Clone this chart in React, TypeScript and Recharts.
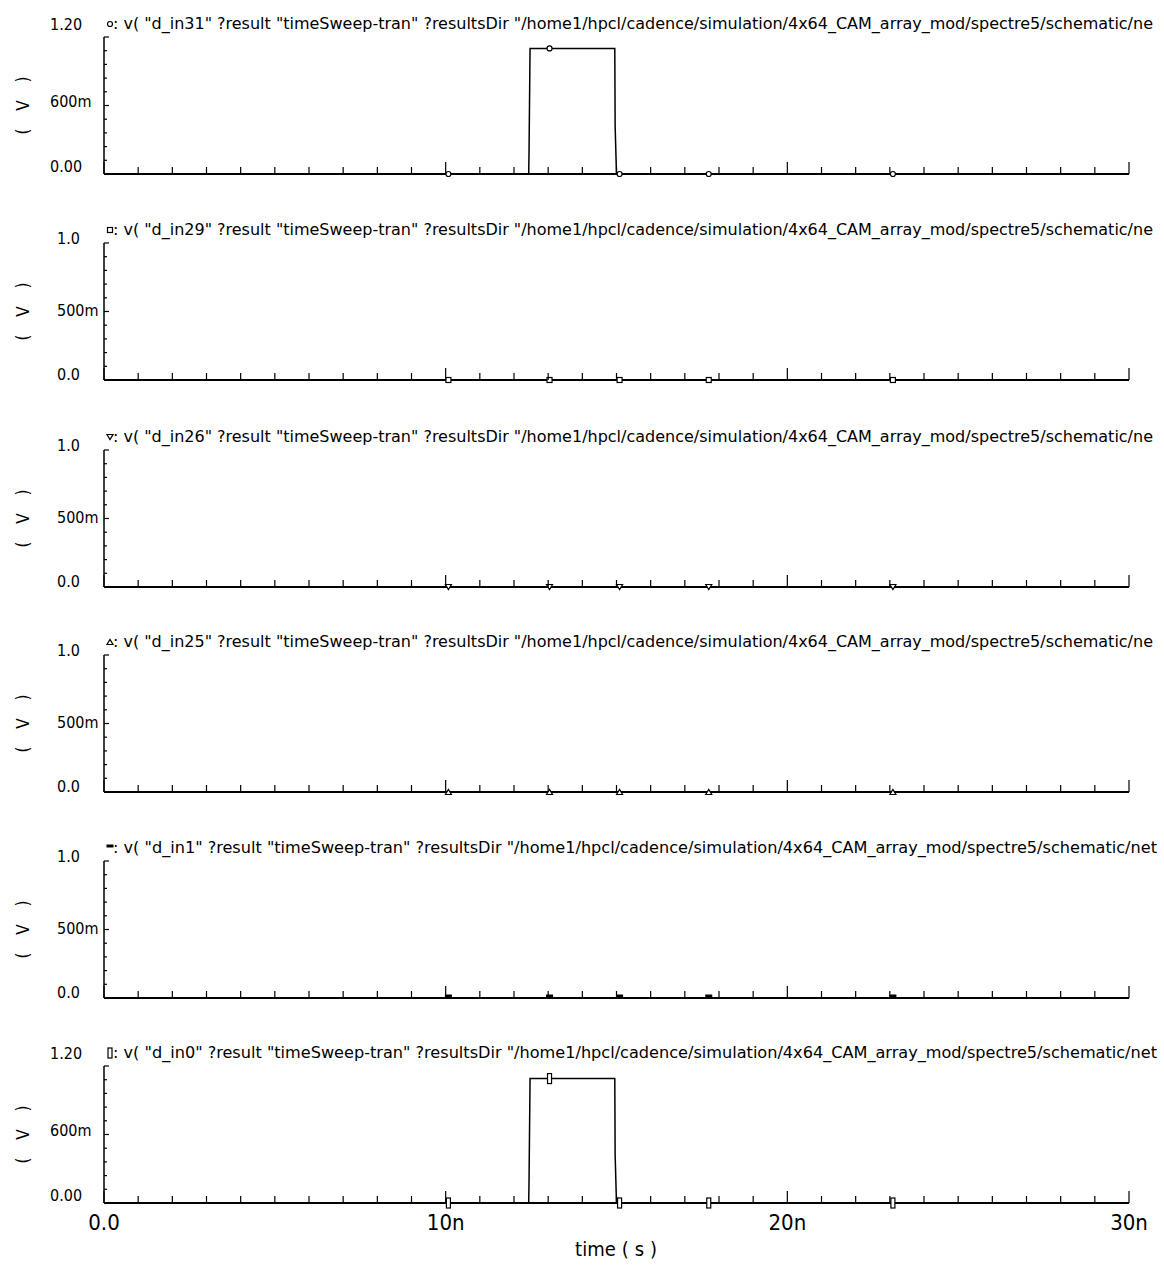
import React from 'react';
import { ComposedChart, Line, Scatter, XAxis, YAxis, Customized } from 'recharts';

const FONT = "'DejaVu Sans Condensed', 'Liberation Sans Narrow', 'DejaVu Sans', sans-serif";

// ---------- data ----------
const signalNames = ['d_in31', 'd_in29', 'd_in26', 'd_in25', 'd_in1', 'd_in0'];
const titleTails = ['/ne', '/ne', '/ne', '/ne', '/net', '/net'];
const markerKinds = ['circle', 'square', 'triDown', 'triUp', 'dash', 'bar'];
const yMaxes = [1.2, 1.0, 1.0, 1.0, 1.0, 1.2];

const yTicks12 = [0, 0.12, 0.24, 0.36, 0.48, 0.6, 0.72, 0.84, 0.96, 1.08, 1.2];
const yTicks10 = [0, 0.1, 0.2, 0.3, 0.4, 0.5, 0.6, 0.7, 0.8, 0.9, 1.0];
const yLabelValues12 = [0, 0.6, 1.2];
const yLabelTexts12 = ['0.00', '600m', '1.20'];
const yLabelValues10 = [0, 0.5, 1.0];
const yLabelTexts10 = ['0.0', '500m', '1.0'];

const timeTicks = [0, 1, 2, 3, 4, 5, 6, 7, 8, 9, 10, 11, 12, 13, 14, 15, 16, 17, 18, 19, 20, 21, 22, 23, 24, 25, 26, 27, 28, 29, 30];
const timeLabelValues = [0, 10, 20, 30];
const timeLabelTexts = ['0.0', '10n', '20n', '30n'];

// time in ns
const pulseTimes = [0, 12.43, 12.44, 12.47, 14.95, 14.96, 15.0, 30];
const flatTimes = [0, 30];
const d_in31 = [0, 0, 0.19, 1.1, 1.1, 0.42, 0, 0];
const d_in29 = [0, 0];
const d_in26 = [0, 0];
const d_in25 = [0, 0];
const d_in1 = [0, 0];
const d_in0 = [0, 0, 0.19, 1.09, 1.09, 0.42, 0, 0];

const markerTimes = [10.08, 13.04, 15.09, 17.7, 23.09];
const markers31 = [0, 1.1, 0, 0, 0];
const markers29 = [0, 0, 0, 0, 0];
const markers26 = [0, 0, 0, 0, 0];
const markers25 = [0, 0, 0, 0, 0];
const markers1 = [0, 0, 0, 0, 0];
const markers0 = [0, 1.09, 0, 0, 0];

const signalTimes = [pulseTimes, flatTimes, flatTimes, flatTimes, flatTimes, pulseTimes];
const signalValues = [d_in31, d_in29, d_in26, d_in25, d_in1, d_in0];
const markerValues = [markers31, markers29, markers26, markers25, markers1, markers0];

// ---------- layout ----------
const CHART_W = 1164;
const AXIS_W = 104;
const RIGHT = 35;
const PLOT_TOP = 36;
const PLOT_H = 137;
const XAXIS_H = 33;
const LAST_XAXIS_H = 90;
const chartTops = [1, 207, 414, 619, 825, 1030];

function Marker({ kind, cx, cy }: { kind: string; cx: number; cy: number }) {
  const s = { stroke: '#000', strokeWidth: 1.2, fill: '#fff' };
  switch (kind) {
    case 'circle':
      return <circle cx={cx} cy={cy} r={2.5} {...s} />;
    case 'square':
      return <rect x={cx - 2.5} y={cy - 2.5} width={5} height={5} {...s} />;
    case 'triDown':
      return <polygon points={`${cx - 3},${cy - 2.5} ${cx + 3},${cy - 2.5} ${cx},${cy + 2.5}`} {...s} />;
    case 'triUp':
      return <polygon points={`${cx - 3},${cy + 2.5} ${cx + 3},${cy + 2.5} ${cx},${cy - 2.5}`} {...s} />;
    case 'dash':
      return <rect x={cx - 3.5} y={cy - 3.5} width={7} height={3} fill="#000" />;
    case 'bar':
      return <rect x={cx - 2} y={cy - 5} width={4} height={10} {...s} />;
    default:
      return null;
  }
}

function XTick(props: any) {
  const { x, y, payload, showLabels } = props;
  const t = payload.value;
  const idx = timeLabelValues.indexOf(t);
  const major = idx >= 0;
  return (
    <g>
      <line x1={x} x2={x} y1={y} y2={y - (major ? 12 : 7)} stroke="#000" strokeWidth={1.2} />
      {showLabels && major && (
        <text x={x} y={y + 27} textAnchor="middle" fontFamily={FONT} fontSize={22} fill="#000">
          {timeLabelTexts[idx]}
        </text>
      )}
    </g>
  );
}

function YTick(props: any) {
  const { x, y, payload, labelValues, labelTexts, labelX, dys } = props;
  const v = payload.value;
  const idx = labelValues.findIndex((l: number) => Math.abs(l - v) < 1e-9);
  const major = idx >= 0;
  return (
    <g>
      <line x1={x} x2={x + (major ? 5 : 3)} y1={y} y2={y} stroke="#000" strokeWidth={1.2} />
      {major && (
        <text x={labelX} y={y + dys[idx]} textAnchor="start" fontFamily={FONT} fontSize={16} fill="#000">
          {labelTexts[idx]}
        </text>
      )}
    </g>
  );
}

function Panel({ i }: { i: number }) {
  const isLast = i === signalNames.length - 1;
  const height = PLOT_TOP + PLOT_H + (isLast ? LAST_XAXIS_H : XAXIS_H);
  const times = signalTimes[i];
  const vals = signalValues[i];
  const lineData = times.map((t, k) => ({ t, v: vals[k] }));
  const mVals = markerValues[i];
  const markerData = markerTimes.map((t, k) => ({ t, v: mVals[k] }));
  const big = yMaxes[i] > 1.1;
  const yTicks = big ? yTicks12 : yTicks10;
  const labelValues = big ? yLabelValues12 : yLabelValues10;
  const labelTexts = big ? yLabelTexts12 : yLabelTexts10;
  const labelX = big ? 50 : 57;
  const dys = big ? [-2, 1, -7] : [0, 4, 1];
  const kind = markerKinds[i];
  const titleText = `: v( "${signalNames[i]}" ?result "timeSweep-tran" ?resultsDir "/home1/hpcl/cadence/simulation/4x64_CAM_array_mod/spectre5/schematic${titleTails[i]}`;
  const titleEnd = titleTails[i] === '/net' ? 1157 : 1153;
  const titleY = PLOT_TOP - 8;

  const Decor = () => (
    <g>
      <Marker kind={kind} cx={110} cy={titleY - 5} />
      <text
        x={113}
        y={titleY}
        fontFamily={FONT}
        fontSize={16}
        fill="#000"
        textLength={titleEnd - 113}
        lengthAdjust="spacingAndGlyphs"
      >
        {titleText}
      </text>
      <text
        x={0}
        y={0}
        transform={`translate(29, ${PLOT_TOP + PLOT_H / 2}) rotate(-90)`}
        textAnchor="middle"
        fontFamily={FONT}
        fontSize={17}
        fill="#000"
        textLength={58}
        lengthAdjust="spacing"
      >
        ( V )
      </text>
      {isLast && (
        <text
          x={616}
          y={PLOT_TOP + PLOT_H + 53}
          textAnchor="middle"
          fontFamily={FONT}
          fontSize={20}
          fill="#000"
          textLength={82}
          lengthAdjust="spacing"
        >
          time ( s )
        </text>
      )}
    </g>
  );

  return (
    <div style={{ position: 'absolute', left: 0, top: chartTops[i], width: CHART_W, height }}>
      <ComposedChart
        width={CHART_W}
        height={height}
        margin={{ top: PLOT_TOP, right: RIGHT, left: 0, bottom: 0 }}
      >
        <XAxis
          dataKey="t"
          type="number"
          domain={[0, 30]}
          ticks={timeTicks}
          interval={0}
          height={isLast ? LAST_XAXIS_H : XAXIS_H}
          tickSize={0}
          tickMargin={0}
          tickLine={false}
          axisLine={{ stroke: '#000', strokeWidth: 2 }}
          tick={(p: any) => <XTick {...p} showLabels={isLast} />}
        />
        <YAxis
          type="number"
          domain={[0, yMaxes[i]]}
          ticks={yTicks}
          interval={0}
          width={AXIS_W}
          tickSize={0}
          tickMargin={0}
          tickLine={false}
          axisLine={{ stroke: '#000', strokeWidth: 1.5 }}
          tick={(p: any) => (
            <YTick {...p} labelValues={labelValues} labelTexts={labelTexts} labelX={labelX} dys={dys} />
          )}
        />
        <Line
          data={lineData}
          dataKey="v"
          type="linear"
          stroke="#000"
          strokeWidth={1.5}
          dot={false}
          activeDot={false}
          isAnimationActive={false}
        />
        <Scatter
          data={markerData}
          dataKey="v"
          isAnimationActive={false}
          shape={(p: any) => <Marker kind={kind} cx={p.cx} cy={p.cy} />}
        />
        <Customized component={Decor} />
      </ComposedChart>
    </div>
  );
}

export default function App() {
  return (
    <div style={{ position: 'absolute', left: 0, top: 0, width: 1164, height: 1266, background: '#fff' }}>
      {signalNames.map((_, i) => (
        <Panel key={i} i={i} />
      ))}
    </div>
  );
}
